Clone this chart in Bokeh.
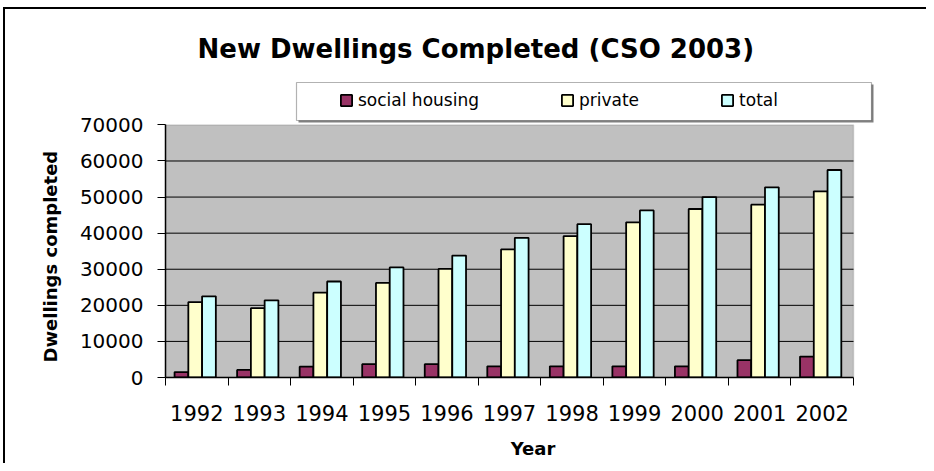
from bokeh.plotting import figure
from bokeh.models import (ColumnDataSource, Range1d, FixedTicker, NumeralTickFormatter,
                          Legend, LegendItem, Label, BoxAnnotation, Title)
from bokeh.transform import dodge
from bokeh.embed import file_html
from bokeh.resources import INLINE

years = ["1992", "1993", "1994", "1995", "1996", "1997", "1998", "1999", "2000", "2001", "2002"]
social_housing = [1500, 2100, 3000, 3700, 3700, 3100, 3100, 3100, 3100, 4800, 5800]
private = [20900, 19200, 23500, 26200, 30100, 35500, 39200, 43000, 46700, 47900, 51600]
total = [22500, 21400, 26600, 30500, 33800, 38700, 42500, 46300, 50000, 52700, 57500]
y_ticks = [0, 10000, 20000, 30000, 40000, 50000, 60000, 70000]

n = len(years)
idx = list(range(n))
source = ColumnDataSource(dict(x=idx, year=years, social=social_housing,
                               private=private, total=total))
y_max = y_ticks[-1]
grid_src = ColumnDataSource(dict(y=[t for t in y_ticks if 0 < t < y_max]))

FONT = "DejaVu Sans"

# plot area: 688 px for the categories, 252.6 px for 0..70000
PX_X = 688.0 / n
PX_Y = 252.6 / y_max
FW, FH = 735, 372

p = figure(width=926, height=463, output_backend="svg", toolbar_location=None,
           frame_width=FW, frame_height=FH,
           x_range=Range1d(-0.5, -0.5 + FW / PX_X), y_range=Range1d(0, FH / PX_Y),
           min_border_left=165, min_border_right=26, min_border_top=5,
           min_border_bottom=86)
p.title.text = ""
p.background_fill_alpha = 0
p.border_fill_alpha = 0
p.outline_line_color = None
p.xgrid.grid_line_color = None
p.ygrid.grid_line_color = None
# outer chart border (top and left edges only)
p.styles = {
    "background-color": "white",
    "background-image": ("linear-gradient(to right, transparent 3px, #000 3px, #000 5px, transparent 5px),"
                         " linear-gradient(to bottom, transparent 7px, #000 7px, #000 9px, transparent 9px)"),
    "background-position": "0px 7px, 3px 0px",
    "background-size": "100% 100%, 100% 100%",
    "background-repeat": "no-repeat, no-repeat",
}

# grey plot area
area = BoxAnnotation(left=-0.5, right=n - 0.5, bottom=0, top=y_max,
                     fill_color="#C0C0C0", fill_alpha=1.0,
                     line_color="#808080", line_width=1.5, level="image")
p.add_layout(area)

# horizontal grid lines
p.segment(x0=-0.5, x1=n - 0.5, y0="y", y1="y", source=grid_src,
          line_color="black", line_width=1)

w = 0.22
r1 = p.vbar(x=dodge("x", -0.245, range=p.x_range), top="social", width=w, source=source,
            fill_color="#993366", line_color="black", line_width=1.8)
r2 = p.vbar(x=dodge("x", -0.025, range=p.x_range), top="private", width=w, source=source,
            fill_color="#FFFFCC", line_color="black", line_width=1.8)
r3 = p.vbar(x=dodge("x", 0.195, range=p.x_range), top="total", width=w, source=source,
            fill_color="#CCFFFF", line_color="black", line_width=1.8)

# y axis
yax = p.yaxis[0]
yax.bounds = (0, y_max)
yax.ticker = FixedTicker(ticks=y_ticks)
yax.formatter = NumeralTickFormatter(format="0")
yax.major_label_text_font = FONT
yax.major_label_text_font_size = "20px"
yax.major_label_text_color = "black"
yax.major_label_standoff = 14
yax.major_tick_out = 8
yax.major_tick_in = 0
yax.minor_tick_line_color = None
yax.axis_line_color = "black"
yax.axis_line_width = 1.5
yax.major_tick_line_color = "black"

# y axis title, aligned with the grey plot area rather than the whole frame
ytitle = Title(text="Dwellings completed", align="left", offset=15, standoff=32,
               text_font=FONT, text_font_style="bold", text_font_size="18px",
               text_color="black")
p.add_layout(ytitle, "left")

# x axis
xax = p.xaxis[0]
xax.bounds = (-0.5, n - 0.5)
xax.ticker = FixedTicker(ticks=idx, minor_ticks=[i - 0.5 for i in range(n + 1)])
xax.major_label_overrides = {i: y for i, y in zip(idx, years)}
xax.axis_label = "Year"
xax.axis_label_text_font = FONT
xax.axis_label_text_font_style = "bold"
xax.axis_label_text_font_size = "18px"
xax.axis_label_text_color = "black"
xax.axis_label_standoff = 14
xax.major_label_text_font = FONT
xax.major_label_text_font_size = "21px"
xax.major_label_text_color = "black"
xax.major_label_standoff = 19
xax.major_tick_line_color = None
xax.major_tick_out = 0
xax.major_tick_in = 0
xax.minor_tick_line_color = "black"
xax.minor_tick_out = 8
xax.minor_tick_in = 0
xax.axis_line_color = "black"
xax.axis_line_width = 1.5

# chart title
title = Label(x=32, y=329, x_units="screen", y_units="screen",
              text="New Dwellings Completed (CSO 2003)", text_font=FONT,
              text_font_style="bold", text_font_size="26px", text_color="black",
              text_align="left", text_baseline="alphabetic")
p.add_layout(title)

# legend box with its shadow
shadow = BoxAnnotation(left=133, right=708, bottom=255, top=293,
                       left_units="screen", right_units="screen",
                       bottom_units="screen", top_units="screen",
                       fill_color="#808080", fill_alpha=1.0, line_color=None)
p.add_layout(shadow)
box = BoxAnnotation(left=131, right=706, bottom=257, top=295,
                    left_units="screen", right_units="screen",
                    bottom_units="screen", top_units="screen",
                    fill_color="white", fill_alpha=1.0,
                    line_color="black", line_width=1.2)
p.add_layout(box)

legend = Legend(items=[LegendItem(label="social housing", renderers=[r1]),
                       LegendItem(label="private", renderers=[r2]),
                       LegendItem(label="total", renderers=[r3])],
                orientation="horizontal", location=(174, 267),
                padding=0, margin=0, spacing=81, label_standoff=5,
                glyph_width=14, glyph_height=14, label_height=20,
                label_text_font=FONT, label_text_font_size="17px",
                label_text_color="black",
                background_fill_alpha=0, border_line_alpha=0)
p.add_layout(legend)

open("out.html", "w").write(file_html(p, INLINE))
